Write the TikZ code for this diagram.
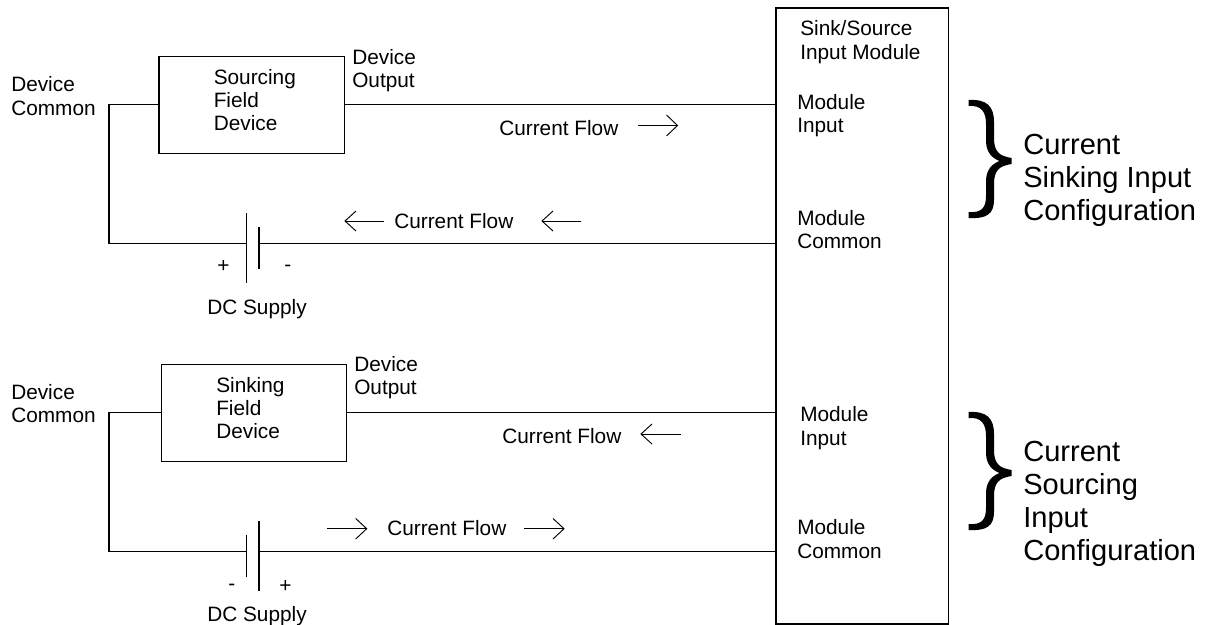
\documentclass[tikz,border=0pt]{standalone}
\usepackage{fontspec}
\setmainfont{Liberation Sans}
\tikzset{
  x=0.75pt,y=-0.75pt,
  wire/.style={line width=0.85pt,line cap=rect},
  boxn/.style={draw,line width=0.85pt,anchor=north west,inner sep=0pt,rectangle},
  lab/.style={align=left,anchor=north west,inner sep=0pt,font=\fontsize{15.6pt}{17.4pt}\selectfont},
  biglab/.style={align=left,anchor=north west,inner sep=0pt,font=\fontsize{21.8pt}{24.8pt}\selectfont},
  cur/.style={line width=0.7pt},
  tipr/.style={line width=0.7pt},
  plate/.style={line width=0.85pt}
}
\newcommand{\bigbrace}[2]{%
 \fill[black,shift={(#1,#2)}] (0,0) .. controls (18,-1) and (25.5,6) .. (25.5,22)
   -- (25.5,38) .. controls (25.5,52) and (31,56) .. (43,58) -- (43,64)
   .. controls (31,66) and (25.5,70) .. (25.5,84) -- (25.5,100)
   .. controls (25.5,114) and (18,119) .. (0,118) -- (0,112)
   .. controls (13,113) and (17.5,108) .. (17.5,96) -- (17.5,82)
   .. controls (17.5,72) and (21,65) .. (31,61)
   .. controls (21,57) and (17.5,50) .. (17.5,40) -- (17.5,24)
   .. controls (17.5,12) and (13,5) .. (0,6) -- cycle;}
\begin{document}
\begin{tikzpicture}
\useasboundingbox (0,0) rectangle (1212,624);
% module
\node[boxn,minimum width=172.8*0.75pt,minimum height=616*0.75pt] (mod) at (775.4,7.4) {};
\node[lab] (t1) at (800,20.5) {Sink/Source\\Input Module};
\node[lab] (t2) at (797,94) {Module\\Input};
\node[lab] (t3) at (797,210) {Module\\Common};
\node[lab] (t4) at (800,406.5) {Module\\Input};
\node[lab] (t5) at (797,519.5) {Module\\Common};
% upper field device
\node[boxn,minimum width=185.4*0.75pt,minimum height=97*0.75pt] (dev1) at (158.4,56) {};
\node[lab] (d1) at (213.5,69) {Sourcing\\Field\\Device};
\node[lab] (o1) at (352,49) {Device\\Output};
\node[lab] (c1) at (11,76.5) {Device\\Common};
\coordinate (in1) at (mod.west |- 0,104.6);
\coordinate (out1) at (dev1.east |- 0,104.6);
\coordinate (inl1) at (dev1.west |- 0,104.6);
\draw[wire] (out1) -- (in1);
\coordinate (cl1) at (109,104.6);
\coordinate (bl1) at (109,243.4);
\coordinate (bat1a) at (246.7,243.4);
\coordinate (bat1b) at (259,243.4);
\coordinate (mc1) at (mod.west |- 0,243.4);
\draw[wire] (inl1) -- (cl1) -- (bl1) -- (bat1a);
\draw[wire] (bat1b) -- (mc1);
\draw[plate] (246.7,213) -- (246.7,283);
\draw[plate] (259,227) -- (259,269);
\node[lab] (p1) at (217,260) {+};
\node[lab] (m1) at (284,265) {-};
\node[lab] (s1) at (207,299) {DC Supply};
\node[lab] (f1) at (499,120.5) {Current Flow};
\node[lab] (f2) at (394,213) {Current Flow};
\draw[cur] (638,125.5) -- (677.5,125.5);
\draw[tipr] (666.5,115) -- (677.5,125.5) -- (666.5,136);
\draw[cur] (384,221) -- (345,221);
\draw[tipr] (356,211) -- (345,221) -- (356,231);
\draw[cur] (581,221) -- (542,221);
\draw[tipr] (553,211) -- (542,221) -- (553,231);
% lower field device
\node[boxn,minimum width=185.6*0.75pt,minimum height=96.7*0.75pt] (dev2) at (160.7,364.3) {};
\node[lab] (d2) at (216,377) {Sinking\\Field\\Device};
\node[lab] (o2) at (354,356) {Device\\Output};
\node[lab] (c2) at (11,384) {Device\\Common};
\coordinate (in2) at (mod.west |- 0,412.7);
\coordinate (out2) at (dev2.east |- 0,412.7);
\coordinate (inl2) at (dev2.west |- 0,412.7);
\draw[wire] (out2) -- (in2);
\coordinate (cl2) at (109,412.7);
\coordinate (bl2) at (109,551.4);
\coordinate (bat2a) at (246.7,551.4);
\coordinate (bat2b) at (259,551.4);
\coordinate (mc2) at (mod.west |- 0,551.4);
\draw[wire] (inl2) -- (cl2) -- (bl2) -- (bat2a);
\draw[wire] (bat2b) -- (mc2);
\draw[plate] (246.7,535) -- (246.7,577);
\draw[plate] (259,521) -- (259,591);
\node[lab] (m2) at (228,584) {-};
\node[lab] (p2) at (279,580) {+};
\node[lab] (s2) at (207,606) {DC Supply};
\node[lab] (f3) at (502,428.5) {Current Flow};
\node[lab] (f4) at (387,520) {Current Flow};
\draw[cur] (680.5,434) -- (641,434);
\draw[tipr] (652,424) -- (641,434) -- (652,444);
\draw[cur] (327,528.7) -- (366.7,528.7);
\draw[tipr] (355.7,518.5) -- (366.7,528.7) -- (355.7,539);
\draw[cur] (524,528.7) -- (564,528.7);
\draw[tipr] (553,518.5) -- (564,528.7) -- (553,539);
% right
\bigbrace{968.5}{100}
\bigbrace{968.5}{412}
\node[biglab] (b1) at (1023,134) {Current\\Sinking Input\\Configuration};
\node[biglab] (b2) at (1023,441) {Current\\Sourcing\\Input\\Configuration};
\end{tikzpicture}
\end{document}
